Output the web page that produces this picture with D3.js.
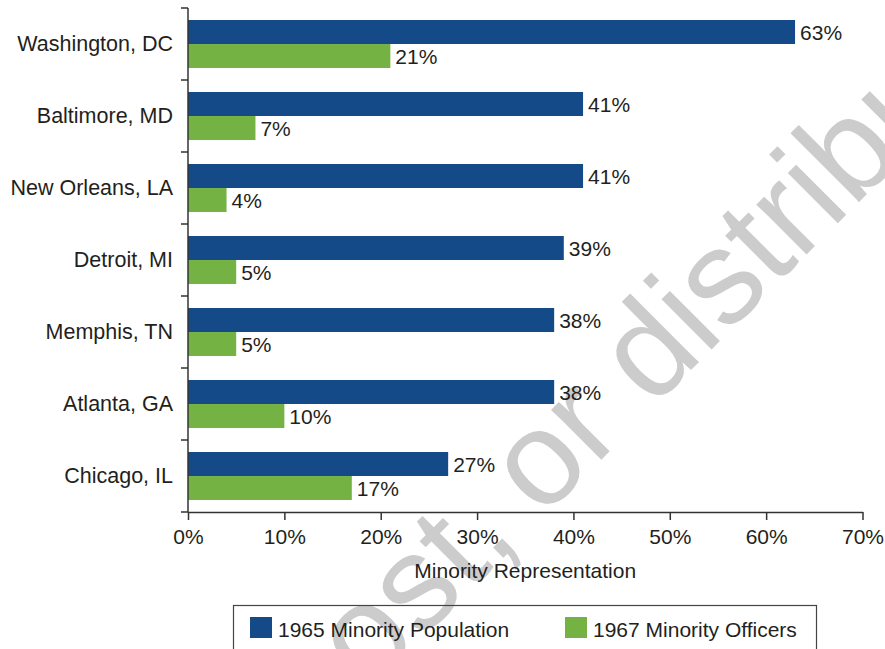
<!DOCTYPE html>
<html>
<head>
<meta charset="utf-8">
<script src="https://cdn.jsdelivr.net/npm/d3@7"></script>
<style>
  body { margin: 0; background: #fff; }
  text { font-family: "Liberation Sans", Arial, Helvetica, sans-serif; fill: #231f20; }
</style>
</head>
<body>
<svg id="chart"></svg>
<script>
// data
var cities = ["Washington, DC", "Baltimore, MD", "New Orleans, LA", "Detroit, MI", "Memphis, TN", "Atlanta, GA", "Chicago, IL"];
var population1965 = [63, 41, 41, 39, 38, 38, 27];
var officers1967 = [21, 7, 4, 5, 5, 10, 17];
var seriesNames = ["1965 Minority Population", "1967 Minority Officers"];
var xTicks = [0, 10, 20, 30, 40, 50, 60, 70];

var width = 885, height = 649;
// plot area edges (don't call it "top", that's window.top)
var plotLeft = 188, plotRight = 862.5, plotTop = 8, plotBottom = 512;

var svg = d3.select("#chart")
  .attr("width", width)
  .attr("height", height);

var colors = d3.scaleOrdinal()
  .domain(seriesNames)
  .range(["#154a89", "#74b244"]);

// watermark, behind everything else
var wm = svg.append("g")
  .attr("transform", "translate(542,519) rotate(-45)");
wm.append("text")
  .attr("x", -30)
  .attr("text-anchor", "end")
  .style("font-size", "134px")
  .style("fill", "#cccccc")
  .text("Do not copy, post, ");
wm.append("text")
  .attr("text-anchor", "start")
  .style("font-size", "134px")
  .style("fill", "#cccccc")
  .text("or distribute");

var x = d3.scaleLinear().domain([0, 70]).range([plotLeft, plotRight]);
var y = d3.scaleBand().domain(cities).range([plotTop, plotBottom]).padding(0);
var y1 = d3.scaleBand().domain(seriesNames).range([0, y.bandwidth()])
  .paddingInner(0).paddingOuter(0.5);

var rows = cities.map(function(c, i) {
  return { city: c, values: [
    { key: seriesNames[0], value: population1965[i] },
    { key: seriesNames[1], value: officers1967[i] }
  ]};
});

var groups = svg.selectAll("g.city")
  .data(rows)
  .enter().append("g")
  .attr("class", "city")
  .attr("transform", function(d) { return "translate(0," + y(d.city) + ")"; });

groups.selectAll("rect")
  .data(function(d) { return d.values; })
  .enter().append("rect")
  .attr("x", x(0))
  .attr("y", function(d) { return y1(d.key); })
  .attr("width", function(d) { return x(d.value) - x(0); })
  .attr("height", y1.bandwidth())
  .attr("fill", function(d) { return colors(d.key); });

groups.selectAll("text.val")
  .data(function(d) { return d.values; })
  .enter().append("text")
  .attr("class", "val")
  .attr("x", function(d) { return x(d.value) + 5; })
  .attr("y", function(d) { return y1(d.key) + y1.bandwidth() / 2; })
  .attr("dy", "0.36em")
  .style("font-size", "21px")
  .text(function(d) { return d.value + "%"; });

// y axis: line with ticks between the categories
var yAxis = svg.append("g");
yAxis.append("line")
  .attr("x1", plotLeft).attr("x2", plotLeft)
  .attr("y1", plotTop).attr("y2", plotBottom)
  .attr("stroke", "#333").attr("stroke-width", 1.5);
var bounds = cities.map(function(c) { return y(c); }).concat([plotBottom]);
yAxis.selectAll("line.tick")
  .data(bounds)
  .enter().append("line")
  .attr("class", "tick")
  .attr("x1", plotLeft - 7).attr("x2", plotLeft)
  .attr("y1", function(d) { return d; })
  .attr("y2", function(d) { return d; })
  .attr("stroke", "#333").attr("stroke-width", 1.5);
yAxis.selectAll("text")
  .data(cities)
  .enter().append("text")
  .attr("x", 173)
  .attr("y", function(d) { return y(d) + y.bandwidth() / 2; })
  .attr("dy", "0.32em")
  .attr("text-anchor", "end")
  .style("font-size", "21.5px")
  .text(function(d) { return d; });

// x axis
var xAxis = svg.append("g")
  .attr("transform", "translate(0," + plotBottom + ")")
  .call(d3.axisBottom(x)
    .tickValues(xTicks)
    .tickSize(8)
    .tickSizeOuter(0)
    .tickPadding(9)
    .tickFormat(function(d) { return d + "%"; }));
xAxis.select(".domain").attr("stroke", "#333").attr("stroke-width", 1.5);
xAxis.selectAll(".tick line").attr("stroke", "#333").attr("stroke-width", 1.5);
xAxis.selectAll(".tick text")
  .style("font-size", "21px")
  .style("font-family", "'Liberation Sans', Arial, sans-serif")
  .attr("fill", "#231f20");

svg.append("text")
  .attr("x", (plotLeft + plotRight) / 2)
  .attr("y", 578)
  .attr("text-anchor", "middle")
  .style("font-size", "21px")
  .text("Minority Representation");

// legend
var legend = svg.append("g");
legend.append("rect")
  .attr("x", 233.5).attr("y", 605.5)
  .attr("width", 583).attr("height", 70)
  .attr("fill", "none")
  .attr("stroke", "#444").attr("stroke-width", 1.2);
var legendX = [250, 565];
var items = legend.selectAll("g.item")
  .data(seriesNames)
  .enter().append("g")
  .attr("class", "item")
  .attr("transform", function(d, i) { return "translate(" + legendX[i] + ",617)"; });
items.append("rect")
  .attr("width", 22).attr("height", 21)
  .attr("fill", function(d) { return colors(d); });
items.append("text")
  .attr("x", 28).attr("y", 20)
  .style("font-size", "21px")
  .text(function(d) { return d; });
</script>
</body>
</html>
